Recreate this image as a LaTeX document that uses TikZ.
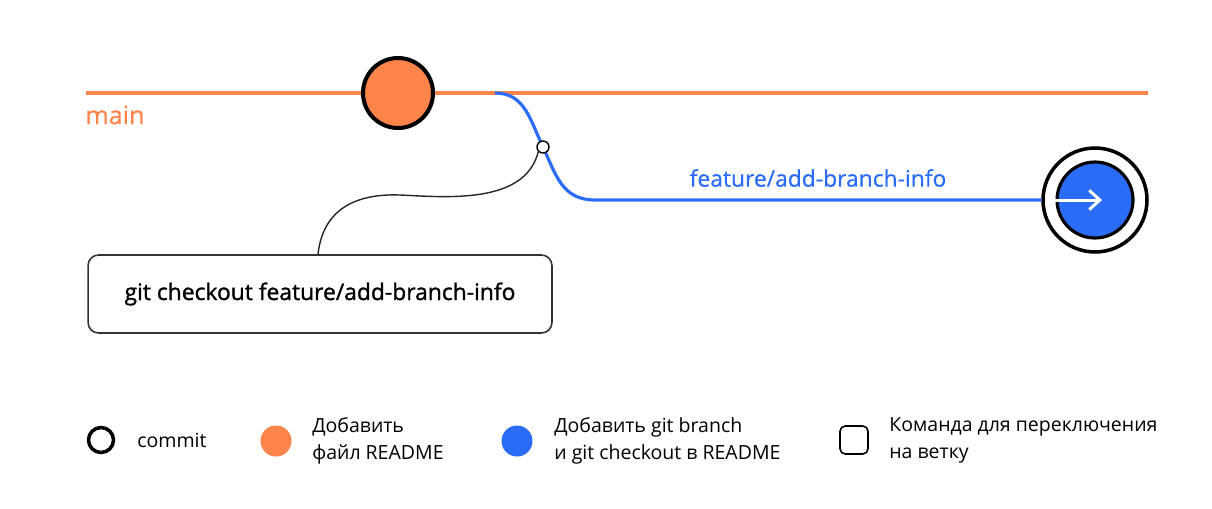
\documentclass[tikz,border=0pt]{standalone}
\usepackage{fontspec}
\setmainfont{Open Sans}
\usetikzlibrary{positioning, arrows.meta}

\definecolor{mainorange}{HTML}{FF844A}
\definecolor{featblue}{HTML}{2B6CF6}

\begin{document}
\begin{tikzpicture}[x=0.02cm, y=-0.02cm,
    commit/.style={circle, draw=black, line width=2.3pt, minimum size=1.4cm, inner sep=0pt},
    cmdbox/.style={draw=black!80, line width=0.9pt, rounded corners=6pt, minimum width=9.28cm, minimum height=1.56cm},
    legtext/.style={anchor=west, align=left, font=\fontsize{11.1}{15.4}\selectfont, inner sep=0pt}]
    \useasboundingbox (0,0) rectangle (1212,508);

    % main branch
    \coordinate (mstart) at (86,93);
    \coordinate (mend) at (1148,93);
    \coordinate (fork) at (495,93);
    \draw[mainorange, line width=2.3pt] (mstart) -- (mend);
    \node[anchor=west, text=mainorange, font=\fontsize{14.3}{16}\selectfont\addfontfeature{FakeBold=0.6}, inner sep=0pt] (mainlbl) at (85,115) {main};
    \node[commit, fill=mainorange] (readme) at (398,93) {};

    % feature branch
    \coordinate (swpt) at (543,147);
    \node[circle, draw=black, line width=2pt, minimum size=2.08cm, inner sep=0pt] (headring) at (1095,200) {};
    \draw[featblue, line width=1.8pt]
        (fork) .. controls (525,93) and (530,120) .. (swpt)
        .. controls (556,175) and (562,200) .. (595,200) -- (headring.west);
    \node[circle, draw=black, fill=white, line width=0.8pt, minimum size=0.24cm, inner sep=0pt] (sw) at (swpt) {};
    \node[commit, line width=1.8pt, minimum size=1.52cm, fill=featblue] (head) at (1095,200) {};
    \draw[white, line width=1.7pt, -{Straight Barb[length=6pt, width=11pt]}] (head.west) -- ([xshift=0.14cm]head.center);
    \node[text=featblue, font=\fontsize{13}{15}\selectfont\addfontfeature{FakeBold=0.6}] (featlbl) at (818,178) {feature/add-branch-info};

    % checkout command
    \node[cmdbox] (cmd) at (320,294) {\fontsize{13}{15}\selectfont\addfontfeature{FakeBold=1.2}git checkout feature/add-branch-info};
    \draw[black!85, line width=0.8pt] (sw.south west) .. controls (525,205) and (445,197) .. (400,195)
        .. controls (345,193) and (322,218) .. (cmd.north -| 318,0);

    % legend
    \node[circle, draw=black, line width=2pt, minimum size=0.5cm, inner sep=0pt] (legcommit) at (101,440) {};
    \node[legtext, right=0.72cm of legcommit.center] (legcommittxt) {commit};
    \node[circle, fill=mainorange, minimum size=0.62cm, inner sep=0pt] (legorange) at (276,441) {};
    \node[legtext, right=0.72cm of legorange.center] (legorangetxt) {Добавить\\файл README};
    \node[circle, fill=featblue, minimum size=0.62cm, inner sep=0pt] (legblue) at (517,441) {};
    \node[legtext, right=0.74cm of legblue.center] (legbluetxt) {Добавить git branch\\и git checkout в README};
    \node[draw=black, line width=0.9pt, rounded corners=3pt, minimum size=0.56cm, inner sep=0pt] (legbox) at (854,440) {};
    \node[legtext, right=0.7cm of legbox.center] (legboxtxt) {Команда для переключения\\на ветку};
\end{tikzpicture}
\end{document}
